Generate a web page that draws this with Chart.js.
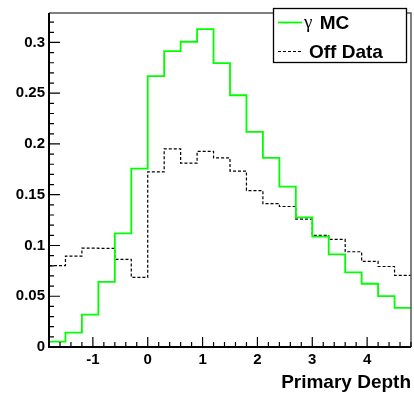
<!DOCTYPE html>
<html>
<head>
<meta charset="utf-8">
<script src="https://cdn.jsdelivr.net/npm/chart.js@4/dist/chart.umd.min.js"></script>
<style>
  html, body { margin: 0; padding: 0; background: #ffffff; }
  #wrap { width: 414px; height: 396px; position: relative; }
</style>
</head>
<body>
<div id="wrap"><canvas id="c" width="414" height="396"></canvas></div>
<script>
// ---- data ----
const binEdges = [-1.8, -1.5, -1.2, -0.9, -0.6, -0.3, 0.0, 0.3, 0.6, 0.9, 1.2, 1.5, 1.8, 2.1, 2.4, 2.7, 3.0, 3.3, 3.6, 3.9, 4.2, 4.5, 4.8];
const gammaMC = [0.0052, 0.0141, 0.0318, 0.0641, 0.1120, 0.1757, 0.2669, 0.2915, 0.3007, 0.3131, 0.2797, 0.2480, 0.2120, 0.1862, 0.1580, 0.1277, 0.1088, 0.0912, 0.0736, 0.0623, 0.0501, 0.0385];
const offData = [0.0802, 0.0896, 0.0973, 0.0972, 0.0863, 0.0685, 0.1725, 0.1952, 0.1811, 0.1927, 0.1862, 0.1733, 0.1541, 0.1413, 0.1384, 0.1260, 0.1100, 0.1060, 0.0938, 0.0844, 0.0793, 0.0706];
const seriesLabels = ['\u03B3 MC', 'Off Data'];
const xTickValues = [-1, 0, 1, 2, 3, 4];
const xTickLabels = ['-1', '0', '1', '2', '3', '4'];
const yTickValues = [0, 0.05, 0.1, 0.15, 0.2, 0.25, 0.3];
const yTickLabels = ['0', '0.05', '0.1', '0.15', '0.2', '0.25', '0.3'];
const xTitle = 'Primary Depth';

// histogram outline: two points per bin (low edge, high edge)
function histPoints(edges, vals) {
  const pts = [];
  for (let i = 0; i < vals.length; i++) {
    pts.push({x: edges[i], y: vals[i]});
    pts.push({x: edges[i + 1], y: vals[i]});
  }
  return pts;
}

const FONT = '"Liberation Sans", Arial, Helvetica, sans-serif';

// ROOT style frame, inward ticks and legend
const rootStyle = {
  id: 'rootStyle',
  afterDraw(chart) {
    const ctx = chart.ctx;
    const a = chart.chartArea;
    const xs = chart.scales.x, ys = chart.scales.y;
    ctx.save();
    // top & right frame
    ctx.strokeStyle = '#555555';
    ctx.lineWidth = 1.5;
    ctx.beginPath();
    ctx.moveTo(a.left, a.top); ctx.lineTo(a.right, a.top); ctx.lineTo(a.right, a.bottom);
    ctx.stroke();
    // axes
    ctx.strokeStyle = '#000000';
    ctx.lineWidth = 2;
    ctx.beginPath();
    ctx.moveTo(a.left, a.top); ctx.lineTo(a.left, a.bottom); ctx.lineTo(a.right, a.bottom);
    ctx.stroke();
    // ticks
    ctx.lineWidth = 1.2;
    ctx.beginPath();
    // x minor ticks every 0.2, major on integers
    for (let k = -9; k <= 24; k++) {
      const v = k / 5;
      if (v < xs.min || v > xs.max) continue;
      const px = xs.getPixelForValue(v);
      const len = (k % 5 === 0) ? 10 : 5;
      ctx.moveTo(px, a.bottom); ctx.lineTo(px, a.bottom - len);
    }
    // y minor ticks every 0.01, major every 0.05
    for (let k = 0; k <= 32; k++) {
      const v = k / 100;
      if (v > ys.max) continue;
      const py = ys.getPixelForValue(v);
      const len = (k % 5 === 0) ? 11 : 5;
      ctx.moveTo(a.left, py); ctx.lineTo(a.left + len, py);
    }
    ctx.stroke();

    // legend box
    const bx = 273.5, by = 8.5, bw = 133, bh = 54;
    ctx.fillStyle = '#ffffff';
    ctx.fillRect(bx, by, bw, bh);
    ctx.strokeStyle = '#000000';
    ctx.lineWidth = 1.3;
    ctx.strokeRect(bx, by, bw, bh);
    const rows = [22.5, 51.5];
    chart.data.datasets.forEach((ds, i) => {
      const y = rows[i];
      ctx.strokeStyle = ds.borderColor;
      ctx.lineWidth = ds.borderWidth;
      ctx.setLineDash(ds.borderDash || []);
      ctx.beginPath();
      ctx.moveTo(278, y); ctx.lineTo(302, y);
      ctx.stroke();
      ctx.setLineDash([]);
      ctx.fillStyle = '#000000';
      ctx.textBaseline = 'middle';
      ctx.textAlign = 'left';
      let label = ds.label;
      let tx = 309;
      if (label.charAt(0) === '\u03B3') {
        tx = 304;
        ctx.font = '19px "Liberation Serif", "Times New Roman", serif';
        ctx.fillText('\u03B3', tx, y + 1);
        tx += ctx.measureText('\u03B3').width + 2;
        label = label.slice(1);
      }
      ctx.font = 'bold 19px ' + FONT;
      ctx.fillText(label, tx, y + 1);
    });
    ctx.restore();
  }
};

new Chart(document.getElementById('c'), {
  type: 'line',
  data: {
    datasets: [
      {
        label: seriesLabels[0],
        data: histPoints(binEdges, gammaMC),
        borderColor: '#00ff00',
        borderWidth: 1.8,
        pointRadius: 0,
        tension: 0,
        fill: false
      },
      {
        label: seriesLabels[1],
        data: histPoints(binEdges, offData),
        borderColor: '#000000',
        borderWidth: 1.2,
        borderDash: [3, 2],
        pointRadius: 0,
        tension: 0,
        fill: false
      }
    ]
  },
  options: {
    responsive: false,
    animation: false,
    devicePixelRatio: 1,
    layout: { padding: { left: 0, right: 3, top: 5, bottom: 0 } },
    plugins: { legend: { display: false }, tooltip: { enabled: false } },
    scales: {
      x: {
        type: 'linear',
        min: -1.8,
        max: 4.8,
        grid: { display: false, drawTicks: false },
        border: { display: false },
        afterBuildTicks(scale) { scale.ticks = xTickValues.map(v => ({value: v})); },
        afterFit(scale) { scale.height = 49; },
        ticks: {
          autoSkip: false,
          maxRotation: 0,
          padding: 4,
          color: '#000000',
          font: { family: FONT, size: 15, weight: 'bold' },
          callback(value) { const i = xTickValues.indexOf(value); return i >= 0 ? xTickLabels[i] : ''; }
        },
        title: {
          display: true,
          text: xTitle,
          align: 'end',
          color: '#000000',
          font: { family: FONT, size: 19, weight: 'bold', lineHeight: 1.2 },
          padding: { top: 0, bottom: 2 }
        }
      },
      y: {
        type: 'linear',
        min: 0,
        max: 0.329,
        grid: { display: false, drawTicks: false },
        border: { display: false },
        afterBuildTicks(scale) { scale.ticks = yTickValues.map(v => ({value: v})); },
        afterFit(scale) { scale.width = 49; },
        ticks: {
          autoSkip: false,
          padding: 4,
          color: '#000000',
          font: { family: FONT, size: 15, weight: 'bold' },
          callback(value) { const i = yTickValues.indexOf(value); return i >= 0 ? yTickLabels[i] : ''; }
        }
      }
    }
  },
  plugins: [rootStyle]
});
</script>
</body>
</html>
